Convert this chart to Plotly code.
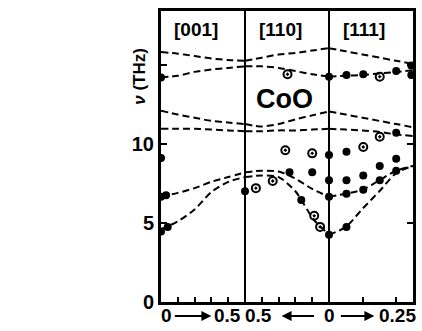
import plotly.graph_objects as go

# ---------------- data ----------------
# wave-vector coordinate xi along each direction, frequency nu in THz
# dashed model branches, panel [001]  (xi 0 -> 0.5)
xi_001 = [0, 0.1, 0.2, 0.3, 0.4, 0.5]
nu_001_A = [15.8, 15.7, 15.55, 15.4, 15.3, 15.25]
nu_001_B = [14.2, 14.3, 14.55, 14.7, 14.8, 14.9]
nu_001_C = [12.1, 11.85, 11.65, 11.45, 11.35, 11.25]
nu_001_D = [10.95, 10.95, 10.95, 10.9, 10.85, 10.8]
nu_001_E = [6.65, 6.9, 7.2, 7.6, 7.9, 8.2]
nu_001_F = [4.6, 5.1, 5.85, 6.95, 7.6, 7.9]

# panel [110]  (xi 0.5 -> 0)
xi_110 = [0.5, 0.4, 0.3, 0.2, 0.1, 0]
nu_110_A = [15.25, 15.45, 15.65, 15.75, 15.9, 16.05]
nu_110_B = [14.9, 14.9, 14.8, 14.6, 14.4, 14.25]
nu_110_C = [11.25, 11.1, 11.25, 11.55, 11.8, 12.05]
nu_110_D = [10.8, 10.8, 10.85, 10.85, 10.9, 10.95]
nu_110_E = [8.2, 8.3, 8.25, 7.8, 7.15, 6.65]
xi_110_F = [0.5, 0.4, 0.3, 0.2, 0.15, 0.09, 0]
nu_110_F = [7.9, 8.0, 7.9, 7.0, 6.2, 5.2, 4.25]

# panel [111]  (xi 0 -> 0.25)
xi_111 = [0, 0.05, 0.1, 0.15, 0.2, 0.25]
nu_111_A = [16.05, 15.85, 15.65, 15.45, 15.25, 15.05]
nu_111_B = [14.25, 14.3, 14.35, 14.45, 14.55, 14.65]
nu_111_C = [12.05, 11.85, 11.65, 11.45, 11.25, 11.05]
nu_111_D = [10.95, 10.9, 10.85, 10.75, 10.6, 10.5]
nu_111_E = [6.65, 6.85, 7.1, 7.7, 8.3, 8.6]
nu_111_F = [4.25, 4.75, 5.9, 7.0, 8.15, 8.6]

# measured points: filled dots and open circles
dots_001_xi = [0, 0, 0, 0, 0.03, 0.04]
dots_001_nu = [14.2, 9.1, 6.65, 4.45, 6.75, 4.75]
dots_110_xi = [0.5, 0.235, 0.1, 0.165]
dots_110_nu = [7.0, 8.2, 8.2, 6.45]
open_110_xi = [0.247, 0.26, 0.1, 0.435, 0.335, 0.088, 0.053]
open_110_nu = [14.4, 9.6, 9.4, 7.2, 7.65, 5.45, 4.75]
dots_111_xi = [0, 0, 0, 0, 0, 0.052, 0.102, 0.2, 0.245, 0.245,
               0.052, 0.2, 0.052, 0.102, 0.151, 0.2,
               0.052, 0.102, 0.151, 0.2, 0.052]
dots_111_nu = [14.25, 9.3, 7.7, 6.65, 4.25, 14.35, 14.4, 14.6, 14.95, 14.35,
               9.5, 10.7, 7.7, 8.0, 8.6, 9.05,
               6.85, 7.1, 7.7, 8.3, 4.75]
open_111_xi = [0.151, 0.102, 0.151]
open_111_nu = [14.25, 9.8, 10.45]

panel_labels = ["[001]", "[110]", "[111]"]
y_ticks = [0, 5, 10, 15]
y_ticktext = ["0", "5", "10", ""]


# mapping of each direction onto a common horizontal axis (3 equal panels)
def p001(xi):
    return [2 * v for v in xi]


def p110(xi):
    return [1 + 2 * (0.5 - v) for v in xi]


def p111(xi):
    return [2 + 4 * v for v in xi]


fig = go.Figure()

line_style = dict(color="black", width=2, dash="7px,4px", shape="spline", smoothing=0.8)

branches = [
    (p001(xi_001), [nu_001_A, nu_001_B, nu_001_C, nu_001_D, nu_001_E, nu_001_F]),
    (p110(xi_110), [nu_110_A, nu_110_B, nu_110_C, nu_110_D, nu_110_E]),
    (p111(xi_111), [nu_111_A, nu_111_B, nu_111_C, nu_111_D, nu_111_E, nu_111_F]),
]
for xs, nus in branches:
    for nu in nus:
        fig.add_trace(go.Scatter(x=xs, y=nu, mode="lines", line=line_style,
                                 hoverinfo="skip", showlegend=False))
fig.add_trace(go.Scatter(x=p110(xi_110_F), y=nu_110_F, mode="lines", line=line_style,
                         hoverinfo="skip", showlegend=False))

fill_x = p001(dots_001_xi) + p110(dots_110_xi) + p111(dots_111_xi)
fill_y = dots_001_nu + dots_110_nu + dots_111_nu
fig.add_trace(go.Scatter(x=fill_x, y=fill_y, mode="markers",
                         marker=dict(symbol="circle", size=8, color="black"),
                         showlegend=False))
open_x = p110(open_110_xi) + p111(open_111_xi)
open_y = open_110_nu + open_111_nu
fig.add_trace(go.Scatter(x=open_x, y=open_y, mode="markers",
                         marker=dict(symbol="circle-open-dot", size=8, color="black",
                                     line=dict(width=2, color="black")),
                         showlegend=False))

# panel dividers
for xv in [1, 2]:
    fig.add_shape(type="line", x0=xv, x1=xv, y0=0, y1=1, xref="x", yref="paper",
                  line=dict(color="black", width=2))

bold = "Liberation Sans, Arial, sans-serif"
ann = dict(showarrow=False, xanchor="center", yanchor="middle")
for i, lab in enumerate(panel_labels):
    fig.add_annotation(x=i + 0.42, y=0.938, xref="x", yref="paper", text="<b>%s</b>" % lab,
                       font=dict(family=bold, size=19, color="black"), **ann)
fig.add_annotation(x=1.47, y=0.698, xref="x", yref="paper", text="<b>CoO</b>",
                   font=dict(family=bold, size=27, color="black"), **ann)
fig.add_annotation(x=-0.086, y=0.775, xref="paper", yref="paper", text="<b><i>ν</i> (THz)</b>",
                   textangle=-90, font=dict(family=bold, size=17, color="black", weight="bold"),
                   **ann)

# bottom axis labels with arrows
bottom_labels = [(0.07, "0"), (0.79, "0.5"), (1.165, "0.5"), (2.01, "0"), (2.81, "0.25")]
for xv, t in bottom_labels:
    fig.add_annotation(x=xv, y=-0.046, xref="x", yref="paper", text="<b>%s</b>" % t,
                       font=dict(family=bold, size=19, color="black"), **ann)
for xh, ax in [(0.6, -38), (1.435, 34), (2.54, -35)]:
    fig.add_annotation(x=xh, y=-0.048, xref="x", yref="paper", text="", showarrow=True,
                       ax=ax, ay=0, axref="pixel", ayref="pixel", arrowhead=2,
                       arrowsize=1, arrowwidth=2, arrowcolor="black")

fig.update_layout(
    width=422, height=331,
    margin=dict(l=161, r=6, t=11, b=29),
    paper_bgcolor="white", plot_bgcolor="white",
    xaxis=dict(range=[0, 3], showgrid=False, zeroline=False, showline=True,
               linecolor="black", linewidth=3, mirror=True, ticks="inside",
               tickvals=[0.2, 0.4, 0.6, 0.8, 1.2, 1.4, 1.6, 1.8, 2.4, 2.8],
               ticklen=5, tickwidth=2, tickcolor="black", showticklabels=False),
    yaxis=dict(range=[0, 18.4], showgrid=False, zeroline=False, showline=True,
               linecolor="black", linewidth=3, mirror="ticks", ticks="inside",
               tickvals=y_ticks, ticktext=y_ticktext, ticklen=6, tickwidth=2,
               tickcolor="black",
               tickfont=dict(family=bold, size=20, color="black", weight="bold")),
)

# remove the default page margin so the 422x331 figure fills the window exactly
fig.write_html("out.html",
               config={"displayModeBar": False},
               post_script="document.body.style.margin='0';"
                           "document.body.style.overflow='hidden';")
